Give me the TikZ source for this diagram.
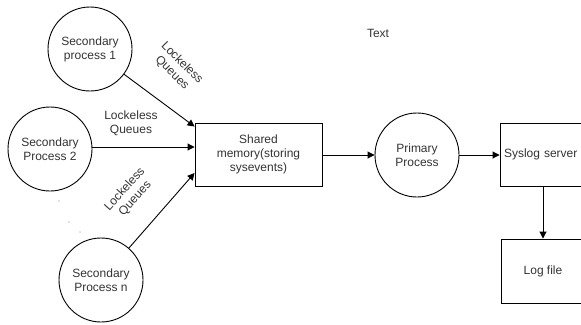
\documentclass[tikz,border=0pt]{standalone}
\usepackage{fontspec}
\setmainfont{Liberation Sans}
\usetikzlibrary{arrows.meta,calc}
\definecolor{txt}{HTML}{333333}
\tikzset{
  x=1pt,y=-1pt,
  proc/.style={circle,draw,line width=0.9pt,minimum size=84pt,inner sep=0pt,align=center,font=\fontsize{12}{14}\selectfont,text=txt},
  box/.style={rectangle,draw,line width=0.9pt,minimum width=127pt,minimum height=63pt,inner sep=0pt,align=center,font=\fontsize{12}{14}\selectfont,text=txt},
  arr/.style={draw,line width=0.9pt,-{Triangle[length=7pt,width=7pt]}},
  lbl/.style={align=center,font=\fontsize{12}{14}\selectfont,text=txt,inner sep=0pt},
  dot/.style={circle,fill=gray,inner sep=0pt,minimum size=1.3pt}
}
\begin{document}
\begin{tikzpicture}
\useasboundingbox (0,0) rectangle (581,324);
\begin{scope}
\clip (0,0) rectangle (581,324);
\node[proc] (s1) at (90,49) {Secondary\\process 1};
\node[proc] (s2) at (50,149) {Secondary\\Process 2};
\node[proc] (sn) at (101,280) {Secondary\\Process n};
\node[box] (mem) at (258.5,154.5) {Shared\\memory(storing\\sysevents)};
\node[proc] (pp) at (417,155) {Primary\\Process};
\node[box,minimum width=86pt,text width=84pt,align=left] (sys) at (543,154.5) {\hspace{3pt}Syslog server};
\node[box,minimum width=84pt,minimum height=64pt] (log) at (543,271) {Log file};
\node[lbl] (t) at (378,33) {Text};

\coordinate (m1) at ($(mem.north west)+(0,4)$);
\coordinate (m2) at ($(mem.west)+(0,-7.5)$);
\coordinate (m3) at ($(mem.west)+(0,18.5)$);
\draw[arr] (s1) -- (m1);
\draw[arr] (s2.east |- m2) -- (m2);
\draw[arr] (sn) -- (m3);
\draw[arr] (mem.east |- pp) -- (pp);
\draw[arr] (pp) -- (sys.west |- pp);
\draw[arr] (sys.south -| log) -- (log.north);

\node[lbl,rotate=-45] (l1) at (177,68) {Lockeless\\Queues};
\node[lbl] (l2) at (131,123) {Lockeless\\Queues};
\node[lbl,rotate=48] (l3) at (130,194) {Lockeless\\Queues};

\node[dot] (d1) at (59,201) {};
\node[dot] (d2) at (69,222) {};
\node[dot] (d3) at (80,232) {};
\end{scope}
\end{tikzpicture}
\end{document}
